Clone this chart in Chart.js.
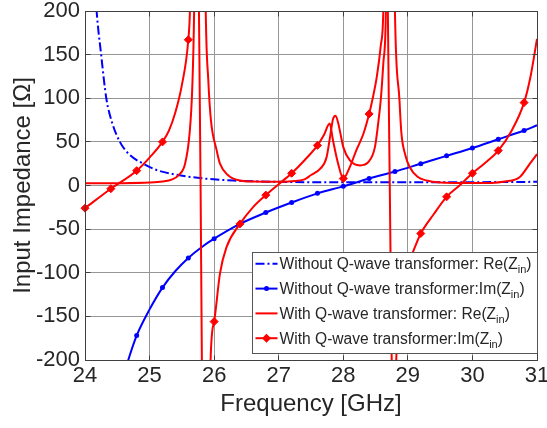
<!DOCTYPE html>
<html>
<head>
<meta charset="utf-8">
<script src="https://cdn.jsdelivr.net/npm/chart.js@4.4.1/dist/chart.umd.min.js"></script>
<style>
  html, body { margin: 0; padding: 0; background: #fff; }
</style>
</head>
<body>
<canvas id="zin" width="547" height="428"></canvas>
<script>
// Values: frequency [GHz], impedance [Ohm]
const xTicks = [24, 25, 26, 27, 28, 29, 30, 31];
const yTicks = [-200, -150, -100, -50, 0, 50, 100, 150, 200];

// Without Q-wave transformer: Re(Zin)
const reNoQF = [24.10, 24.18, 24.25, 24.33, 24.42, 24.54, 24.68, 24.90, 25.10, 25.37, 25.78, 26.30, 27.00, 28.00, 29.00, 30.00, 31.00];
const reNoQ  = [300, 200, 150, 100, 72, 50, 36, 25, 18, 13, 8.5, 5.7, 4.2, 3.6, 3.6, 3.8, 4.2];

// Without Q-wave transformer: Im(Zin)
const imNoQF = [24.60, 24.67, 24.80, 25.00, 25.20, 25.40, 25.60, 25.80, 26.00, 26.40, 26.80, 27.20, 27.60, 28.00, 28.40, 28.80, 29.20, 29.60, 30.00, 30.40, 30.80, 31.00];
const imNoQ  = [-218, -200, -172, -142, -117, -98, -83, -71, -61, -44, -31, -19.5, -9, -1, 8, 16, 25, 34, 43, 53, 63, 69];

// With Q-wave transformer: Re(Zin)
const reQF = [24.00, 24.50, 25.00, 25.20, 25.35, 25.45, 25.55, 25.62, 25.66, 25.69, 25.73, 25.78, 25.83, 25.87, 25.91, 25.95,
              26.04, 26.09, 26.22, 26.40, 26.60, 27.00, 27.20, 27.40, 27.50, 27.64, 27.74, 27.80, 27.84, 27.88, 27.92, 27.96,
              28.00, 28.10, 28.26, 28.39, 28.49, 28.54, 28.58, 28.62, 28.66, 28.70, 28.73, 28.77, 28.80, 28.87, 28.90, 28.96,
              29.03, 29.15, 29.29, 29.50, 30.00, 30.30, 30.50, 30.73, 30.89, 31.00];
const reQ  = [2.5, 2.6, 3.3, 4.5, 7, 12, 25, 60, 110, 200, 500, 900, 500, 200, 120, 75,
              40, 25, 11.5, 5.7, 4.5, 4.2, 5, 7, 12, 19, 32, 58, 76, 80, 72, 58,
              44, 29, 23, 27, 44, 71, 98, 140, 200, 500, 700, 400, 200, 98, 60, 35,
              21, 10, 5.7, 3.5, 2.8, 3, 4.5, 9.5, 25, 36];

// With Q-wave transformer: Im(Zin)
const imQF = [24.00, 24.40, 24.80, 25.00, 25.20, 25.30, 25.40, 25.50, 25.60, 25.625, 25.65, 25.75, 25.765, 25.79, 25.81, 25.83,
              25.93, 25.945, 26.00, 26.09, 26.19, 26.40, 26.60, 26.80, 27.00, 27.20, 27.40, 27.60, 27.70, 27.79, 27.84, 27.92,
              28.00, 28.10, 28.20, 28.31, 28.40, 28.45, 28.52, 28.58, 28.62, 28.64, 28.68, 28.69, 28.72, 28.75, 28.77, 28.79,
              28.82, 28.86, 28.93, 29.00, 29.08, 29.20, 29.40, 29.60, 29.80, 30.00, 30.20, 30.40, 30.60, 30.80, 30.90, 31.00];
const imQ  = [-26, -3.7, 17, 32, 50, 63, 84, 115, 167, 200, 300, 300, 200, 0, -200, -300,
              -300, -200, -156, -101, -71, -44, -25, -11, 1.5, 14, 29, 46, 58, 71, 52, 25,
              8, 21, 40, 59, 82, 98, 125, 160, 200, 300, 300, 200, 0, -200, -300, -300,
              -200, -150, -110, -90, -76, -55, -33, -13, 0, 14, 26, 40, 62, 95, 125, 168];

const legendRows = [
  { text: 'Without Q-wave transformer: Re(Z', color: '#0000ff', dash: [9, 3, 2, 3], marker: null },
  { text: 'Without Q-wave transformer:Im(Z', color: '#0000ff', dash: [], marker: 'dot' },
  { text: 'With Q-wave transformer: Re(Z', color: '#ff0000', dash: [], marker: null },
  { text: 'With Q-wave transformer:Im(Z', color: '#ff0000', dash: [], marker: 'diamond' }
];

const FONT = "'Liberation Sans', Arial, Helvetica, sans-serif";
const INK = '#262626';

function pts(xs, ys) {
  return xs.map((x, i) => ({ x: x, y: ys[i] }));
}

// markers sit every 0.4 GHz starting at 24 GHz
function onMarkerGrid(c) {
  if (!c.raw) return false;
  const k = (c.raw.x - 24) / 0.4;
  return Math.abs(k - Math.round(k)) < 1e-6;
}

function al(v) {
  return Math.round(v - 0.5) + 0.5;
}

function drawDiamond(ctx, x, y, r) {
  ctx.beginPath();
  ctx.moveTo(x, y - r);
  ctx.lineTo(x + r, y);
  ctx.lineTo(x, y + r);
  ctx.lineTo(x - r, y);
  ctx.closePath();
  ctx.fill();
}

// no extra room for the end labels, the plot box is fixed
function fixPadding(s) {
  s.paddingLeft = 0;
  s.paddingRight = 0;
  s.paddingTop = 0;
  s.paddingBottom = 0;
}

const frameAndLegend = {
  id: 'frameAndLegend',
  afterDatasetsDraw(chart) {
    const { ctx, chartArea: a, scales } = chart;
    const L = al(a.left), R = al(a.right), T = al(a.top), B = al(a.bottom);
    ctx.save();

    // box and inward tick marks
    ctx.strokeStyle = '#404040';
    ctx.lineWidth = 1;
    ctx.setLineDash([]);
    ctx.strokeRect(L, T, R - L, B - T);
    ctx.beginPath();
    xTicks.forEach(v => {
      const px = al(scales.x.getPixelForValue(v));
      ctx.moveTo(px, B); ctx.lineTo(px, B - 5);
      ctx.moveTo(px, T); ctx.lineTo(px, T + 5);
    });
    yTicks.forEach(v => {
      const py = al(scales.y.getPixelForValue(v));
      ctx.moveTo(L, py); ctx.lineTo(L + 5, py);
      ctx.moveTo(R, py); ctx.lineTo(R - 5, py);
    });
    ctx.stroke();

    // legend box in the lower right corner
    const w = 285, h = 101;
    const bx = al(a.right - w), by = al(a.bottom - 7 - h);
    ctx.fillStyle = '#ffffff';
    ctx.fillRect(bx, by, w, h);
    ctx.strokeStyle = '#555555';
    ctx.strokeRect(bx, by, w, h);

    legendRows.forEach((row, i) => {
      const ly = by + 11.3 + i * 24.8;
      ctx.strokeStyle = row.color;
      ctx.fillStyle = row.color;
      ctx.lineWidth = 2;
      ctx.setLineDash(row.dash);
      ctx.beginPath();
      ctx.moveTo(bx + 3, ly);
      ctx.lineTo(bx + 25, ly);
      ctx.stroke();
      ctx.setLineDash([]);
      if (row.marker === 'dot') {
        ctx.beginPath();
        ctx.arc(bx + 14, ly, 2.5, 0, Math.PI * 2);
        ctx.fill();
      } else if (row.marker === 'diamond') {
        drawDiamond(ctx, bx + 14, ly, 4.5);
      }

      let tx = bx + 27;
      const base = ly + 5.5;
      ctx.fillStyle = INK;
      ctx.textBaseline = 'alphabetic';
      ctx.textAlign = 'left';
      ctx.font = '15.6px ' + FONT;
      ctx.fillText(row.text, tx, base);
      tx += ctx.measureText(row.text).width;
      ctx.font = '11px ' + FONT;
      ctx.fillText('in', tx, base + 4);
      tx += ctx.measureText('in').width;
      ctx.font = '15.6px ' + FONT;
      ctx.fillText(')', tx, base);
    });

    ctx.restore();
  }
};

const ctx = document.getElementById('zin').getContext('2d');
new Chart(ctx, {
  type: 'line',
  data: {
    datasets: [
      {
        label: 'Without Q-wave transformer: Re(Zin)',
        data: pts(reNoQF, reNoQ),
        borderColor: '#0000ff',
        borderWidth: 2,
        borderDash: [9, 3, 2, 3],
        pointRadius: 0,
        order: 4
      },
      {
        label: 'Without Q-wave transformer:Im(Zin)',
        data: pts(imNoQF, imNoQ),
        borderColor: '#0000ff',
        backgroundColor: '#0000ff',
        borderWidth: 2,
        pointStyle: 'circle',
        pointRadius: c => onMarkerGrid(c) ? 2.5 : 0,
        pointBorderWidth: 0,
        order: 3
      },
      {
        label: 'With Q-wave transformer: Re(Zin)',
        data: pts(reQF, reQ),
        borderColor: '#ff0000',
        borderWidth: 2,
        pointRadius: 0,
        order: 2
      },
      {
        label: 'With Q-wave transformer:Im(Zin)',
        data: pts(imQF, imQ),
        borderColor: '#ff0000',
        backgroundColor: '#ff0000',
        borderWidth: 2,
        pointStyle: 'rectRot',
        pointRadius: c => onMarkerGrid(c) ? 4 : 0,
        pointBorderWidth: 1,
        order: 1
      }
    ]
  },
  options: {
    responsive: false,
    animation: false,
    clip: { left: 6, right: 6, top: 0, bottom: 0 },
    layout: { autoPadding: false, padding: { top: 11, right: 10, left: 0, bottom: 0 } },
    elements: { line: { cubicInterpolationMode: 'monotone' } },
    plugins: { legend: { display: false }, tooltip: { enabled: false } },
    scales: {
      x: {
        type: 'linear',
        min: 24,
        max: 31,
        afterFit: s => { s.height = 68; fixPadding(s); },
        ticks: { stepSize: 1, color: INK, padding: 3, font: { family: FONT, size: 22 } },
        grid: { color: '#969696', drawTicks: false },
        border: { display: false },
        title: {
          display: true,
          text: 'Frequency [GHz]',
          color: INK,
          font: { family: FONT, size: 24 },
          padding: { top: 0, bottom: 9 }
        }
      },
      y: {
        min: -200,
        max: 200,
        afterFit: s => { s.width = 85; fixPadding(s); },
        ticks: { stepSize: 50, color: INK, padding: 5, font: { family: FONT, size: 22 } },
        grid: { color: '#969696', drawTicks: false },
        border: { display: false },
        title: {
          display: true,
          text: 'Input Impedance [Ω]',
          color: INK,
          font: { family: FONT, size: 24 },
          padding: { top: 9, bottom: 0 }
        }
      }
    }
  },
  plugins: [frameAndLegend]
});
</script>
</body>
</html>
